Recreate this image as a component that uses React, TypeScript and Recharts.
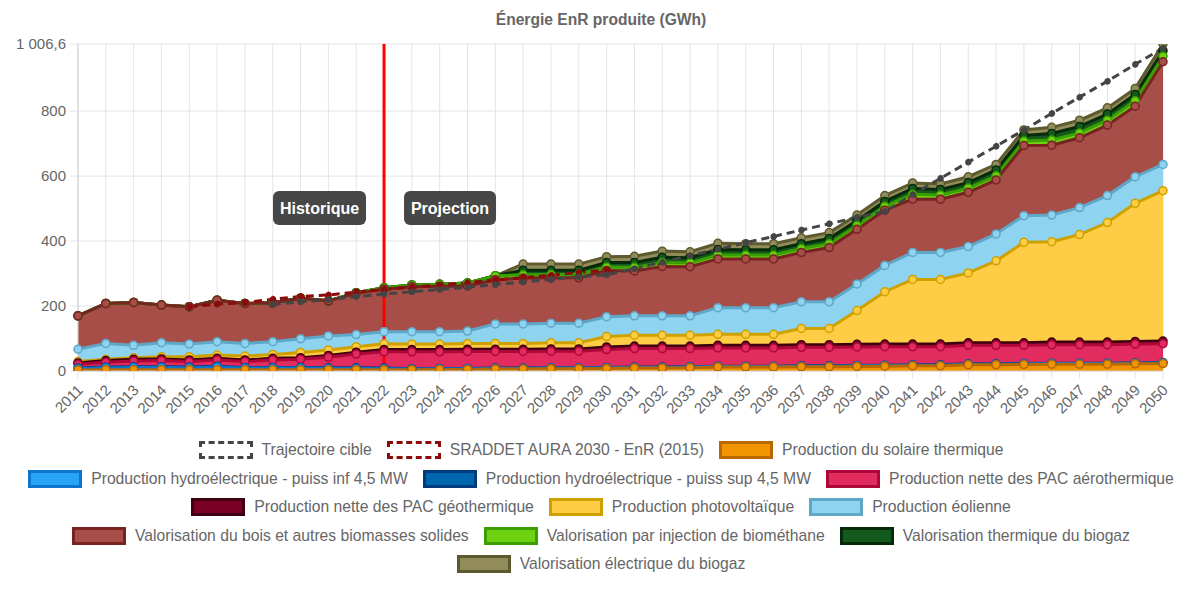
import React from "react";
import {
  ComposedChart,
  Area,
  Line,
  XAxis,
  YAxis,
  CartesianGrid,
  ReferenceLine,
} from "recharts";

const years = [
  2011, 2012, 2013, 2014, 2015, 2016, 2017, 2018, 2019, 2020, 2021, 2022,
  2023, 2024, 2025, 2026, 2027, 2028, 2029, 2030, 2031, 2032, 2033, 2034,
  2035, 2036, 2037, 2038, 2039, 2040, 2041, 2042, 2043, 2044, 2045, 2046,
  2047, 2048, 2049, 2050,
];

const yTicks = [0, 200, 400, 600, 800, 1006.6];

const solaireThermique = [
  3, 4, 4, 4, 4, 4, 4, 4, 4, 4, 4, 4, 4, 5, 5, 6, 6, 7, 7, 8, 9, 9, 10, 12,
  12, 12, 13, 13, 14, 15, 16, 16, 19, 19, 20, 21, 21, 21, 22, 23,
];
const hydroInf = [
  4, 6, 7, 7, 6, 8, 5, 5, 5, 4, 4, 3, 2, 2, 2, 2, 2, 2, 2, 2, 2, 2, 2, 2, 2,
  2, 2, 2, 2, 2, 2, 2, 2, 2, 2, 2, 2, 2, 2, 2,
];
const hydroSup = [
  2, 2, 2, 2, 2, 3, 2, 2, 2, 2, 2, 2, 1, 1, 1, 1, 1, 1, 1, 1, 1, 1, 1, 1, 1,
  1, 1, 1, 1, 1, 1, 1, 1, 1, 1, 1, 1, 1, 1, 1,
];
const pacAero = [
  12, 15, 18, 19, 17, 19, 18, 23, 25, 32, 42, 50, 52, 51, 52, 51, 51, 51, 51,
  55, 57, 57, 56, 56, 56, 56, 57, 57, 57, 57, 56, 56, 57, 57, 56, 57, 57, 57,
  58, 58,
];
const pacGeo = [
  4, 5, 5, 5, 5, 5, 5, 5, 5, 6, 6, 7, 7, 7, 7, 7, 7, 7, 7, 8, 8, 8, 8, 8, 8,
  8, 8, 8, 8, 8, 8, 8, 8, 8, 8, 8, 8, 8, 8, 8,
];
const photovoltaique = [
  4, 4, 5, 7, 10, 10, 12, 12, 16, 17, 17, 18, 17, 17, 18, 18, 18, 19, 19, 32,
  33, 33, 33, 34, 34, 34, 50, 50, 104, 161, 199, 199, 215, 252, 309, 309, 331,
  368, 425, 463,
];
const eolien = [
  38, 49, 38, 43, 39, 41, 39, 39, 42, 43, 37, 37, 38, 38, 38, 60, 60, 60, 60,
  61, 60, 60, 60, 82, 82, 82, 82, 82, 82, 81, 83, 83, 81, 83, 82, 82, 83, 83,
  82, 81,
];
const bois = [
  103, 123, 132, 116, 115, 128, 123, 120, 125, 108, 127, 131, 138, 140, 139,
  136, 141, 140, 140, 142, 138, 152, 151, 150, 150, 150, 152, 167, 168, 170,
  164, 164, 167, 166, 216, 215, 215, 217, 217, 316,
];
const biomethane = [
  0, 0, 0, 0, 0, 0, 0, 0, 0, 0, 2, 4, 6, 6, 9, 12, 10, 10, 10, 11, 11, 12, 12,
  12, 12, 12, 12, 12, 12, 12, 15, 13, 13, 13, 14, 16, 15, 15, 17, 17,
];
const biogazTherm = [
  0, 0, 0, 0, 0, 0, 0, 0, 0, 0, 0, 0, 0, 0, 0, 0, 14, 13, 13, 14, 15, 16, 16,
  17, 16, 16, 15, 16, 15, 15, 18, 17, 17, 18, 17, 20, 20, 19, 19, 17,
];
const biogazElec = [
  0, 0, 0, 0, 0, 0, 0, 0, 0, 0, 0, 0, 0, 0, 0, 0, 19, 19, 19, 18, 19, 19, 18,
  19, 19, 19, 18, 18, 17, 18, 17, 17, 18, 17, 17, 19, 19, 19, 19, 20.6,
];

const trajectoire = [
  null, null, null, null, null, null, null, 205, 213, 220, 229, 237, 244, 251,
  258, 266, 274, 282, 290, 296, 315, 335, 355, 375, 395, 414, 434, 453, 473,
  491, 543, 593, 643, 692, 742, 793, 843, 892, 944, 994,
];
const sraddet = [
  null, null, null, null, 198, 206, 210, 221, 229, 234, 243, 251, 258, 265,
  272, 280, 287, 295, 303, 311, null, null, null, null, null, null, null, null,
  null, null, null, null, null, null, null, null, null, null, null, null,
];

const series = [
  { key: "st", name: "Production du solaire thermique", values: solaireThermique, fill: "#f29400", stroke: "#b86a00" },
  { key: "hi", name: "Production hydroélectrique - puiss inf 4,5 MW", values: hydroInf, fill: "#28a4f4", stroke: "#0b76cc" },
  { key: "hs", name: "Production hydroélectrique - puiss sup 4,5 MW", values: hydroSup, fill: "#0066ae", stroke: "#003b7c" },
  { key: "pa", name: "Production nette des PAC aérothermique", values: pacAero, fill: "#e22b5f", stroke: "#ae073a" },
  { key: "pg", name: "Production nette des PAC géothermique", values: pacGeo, fill: "#7a0028", stroke: "#3e0010" },
  { key: "pv", name: "Production photovoltaïque", values: photovoltaique, fill: "#fecd45", stroke: "#cfa100" },
  { key: "eo", name: "Production éolienne", values: eolien, fill: "#8ed3f0", stroke: "#5ea7c7" },
  { key: "bo", name: "Valorisation du bois et autres biomasses solides", values: bois, fill: "#a84e48", stroke: "#762321" },
  { key: "bm", name: "Valorisation par injection de biométhane", values: biomethane, fill: "#6ed111", stroke: "#3a9f00" },
  { key: "bt", name: "Valorisation thermique du biogaz", values: biogazTherm, fill: "#145a1c", stroke: "#072b0a" },
  { key: "be", name: "Valorisation électrique du biogaz", values: biogazElec, fill: "#918c5a", stroke: "#5e5a30" },
];

const data = years.map((year, i) => {
  const row: Record<string, number | null> = {
    year,
    traj: trajectoire[i],
    sraddet: sraddet[i],
  };
  let sum = 0;
  series.forEach((s) => {
    row[s.key] = s.values[i];
    sum += s.values[i];
    row[s.key + "Top"] = Math.round(sum * 10) / 10;
  });
  return row;
});

const FONT = '"Liberation Sans", Arial, Helvetica, sans-serif';

const formatY = (v: number) =>
  v.toLocaleString("fr-FR").replace(/[\u202f\u00a0]/g, "\u00a0");

const YearTick = (props: any) => {
  const { x, y, payload } = props;
  const ax = x + 6;
  const ay = y + 10;
  return (
    <text
      x={ax}
      y={ay}
      transform={`rotate(-45, ${ax}, ${ay})`}
      textAnchor="end"
      fill="#666"
      fontSize={15}
      fontFamily={FONT}
    >
      {payload.value}
    </text>
  );
};

const PhaseLabels = (props: any) => {
  const { viewBox } = props;
  const x = viewBox.x;
  const top = viewBox.y + 147;
  return (
    <g>
      <rect x={x - 111} y={top} width={93} height={34} rx={6} fill="#474747" />
      <text x={x - 64.5} y={top + 17} textAnchor="middle" dominantBaseline="central" fill="#fff" fontWeight="bold" fontSize={16} fontFamily={FONT}>
        Historique
      </text>
      <rect x={x + 20} y={top} width={92} height={34} rx={6} fill="#474747" />
      <text x={x + 66} y={top + 17} textAnchor="middle" dominantBaseline="central" fill="#fff" fontWeight="bold" fontSize={16} fontFamily={FONT}>
        Projection
      </text>
    </g>
  );
};

const legendRows = [
  [
    { name: "Trajectoire cible", fill: "#fff", stroke: "#444", dashed: true },
    { name: "SRADDET AURA 2030 - EnR (2015)", fill: "#fff", stroke: "#8b0a0a", dashed: true },
    { ...series[0], dashed: false },
  ],
  [series[1], series[2], series[3]].map((s) => ({ ...s, dashed: false })),
  [series[4], series[5], series[6]].map((s) => ({ ...s, dashed: false })),
  [series[7], series[8], series[9]].map((s) => ({ ...s, dashed: false })),
  [{ ...series[10], dashed: false }],
];

const Legend = () => (
  <div style={{ position: "absolute", left: 0, top: 436, width: 1202, fontFamily: FONT, fontSize: 15.7, color: "#666" }}>
    {legendRows.map((row, r) => (
      <div key={r} style={{ height: 28.5, display: "flex", justifyContent: "center", alignItems: "center" }}>
        {row.map((item) => (
          <div key={item.name} style={{ display: "flex", alignItems: "center", margin: "0 7.5px" }}>
            <span
              style={{
                display: "inline-block",
                width: 48,
                height: 12,
                background: item.fill,
                border: `3px ${item.dashed ? "dashed" : "solid"} ${item.stroke}`,
                marginRight: 9,
              }}
            />
            <span style={{ whiteSpace: "nowrap" }}>{item.name}</span>
          </div>
        ))}
      </div>
    ))}
  </div>
);

const App: React.FC = () => {
  return (
    <div style={{ position: "absolute", left: 0, top: 0, width: 1202, height: 589, background: "#fff" }}>
      <div
        style={{
          position: "absolute",
          top: 11,
          left: 0,
          width: 1202,
          textAlign: "center",
          fontFamily: FONT,
          fontWeight: "bold",
          fontSize: 15.6,
          color: "#666",
        }}
      >
        Énergie EnR produite (GWh)
      </div>
      <div style={{ position: "absolute", left: 0, top: 0 }}>
        <ComposedChart
          width={1202}
          height={430}
          data={data}
          margin={{ top: 44, right: 39, left: 0, bottom: 0 }}
        >
          <CartesianGrid stroke="#e4e4e4" />
          <XAxis
            dataKey="year"
            type="number"
            domain={[2011, 2050]}
            ticks={years}
            interval={0}
            height={59}
            tickSize={8}
            tickLine={{ stroke: "#e4e4e4" }}
            axisLine={{ stroke: "#d0d0d0" }}
            tick={<YearTick />}
          />
          <YAxis
            domain={[0, 1006.6]}
            ticks={yTicks}
            allowDataOverflow
            width={78}
            tickSize={8}
            tickMargin={4}
            tickLine={{ stroke: "#e4e4e4" }}
            axisLine={{ stroke: "#d0d0d0" }}
            tickFormatter={formatY}
            tick={{ fill: "#666", fontSize: 15, fontFamily: FONT }}
          />
          {series.map((s) => (
            <Area
              key={s.key}
              type="linear"
              dataKey={s.key}
              stackId="enr"
              fill={s.fill}
              fillOpacity={1}
              stroke="none"
              dot={false}
              activeDot={false}
              isAnimationActive={false}
            />
          ))}
          {[...series].reverse().map((s) => (
            <Line
              key={s.key + "Top"}
              type="linear"
              dataKey={s.key + "Top"}
              stroke={s.stroke}
              strokeWidth={3}
              dot={{ r: 4, fill: s.fill, stroke: s.stroke, strokeWidth: 1.5 }}
              activeDot={false}
              isAnimationActive={false}
            />
          ))}
          <Line
            type="linear"
            dataKey="sraddet"
            stroke="#8b0a0a"
            strokeWidth={3}
            strokeDasharray="8 5"
            dot={{ r: 3, fill: "#8b0a0a", stroke: "#8b0a0a", strokeWidth: 1 }}
            activeDot={false}
            isAnimationActive={false}
          />
          <Line
            type="linear"
            dataKey="traj"
            stroke="#444"
            strokeWidth={3}
            strokeDasharray="8 5"
            dot={{ r: 3, fill: "#444", stroke: "#444", strokeWidth: 1 }}
            activeDot={false}
            isAnimationActive={false}
          />
          <ReferenceLine x={2022} stroke="#ff0000" strokeWidth={3} label={<PhaseLabels />} />
        </ComposedChart>
      </div>
      <Legend />
    </div>
  );
};

export default App;
